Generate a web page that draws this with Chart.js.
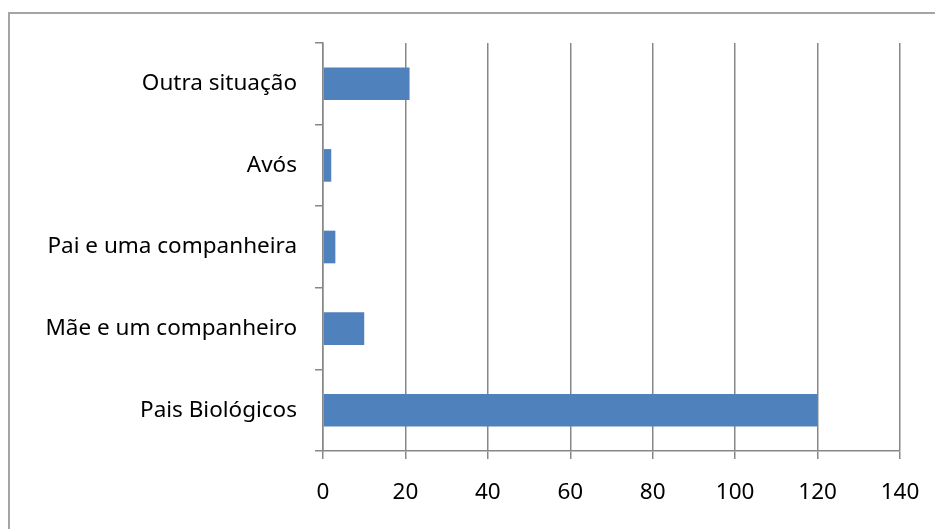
<!DOCTYPE html>
<html>
<head>
<meta charset="utf-8">
<script src="https://cdn.jsdelivr.net/npm/chart.js@4"></script>
<style>
    html, body { margin: 0; padding: 0; background: #fff; }
    #wrap { width: 935px; height: 529px; position: relative; }
</style>
</head>
<body>
<div id="wrap"><canvas id="chart"></canvas></div>
<script>
    // categories from top to bottom, as in the picture
    var categories = ['Outra situação', 'Avós', 'Pai e uma companheira', 'Mãe e um companheiro', 'Pais Biológicos'];
    var counts = [21, 2, 3, 10, 120];
    var xTicks = [0, 20, 40, 60, 80, 100, 120, 140];

    var lineColor = '#878787';
    var labelFont = { family: '"Noto Sans", sans-serif', size: 22.5 };

    // outer chart frame, only top and left edge fall inside the picture
    var framePlugin = {
        id: 'frame',
        beforeDraw: function (chart) {
            var ctx = chart.ctx;
            ctx.save();
            ctx.strokeStyle = '#a5a5a5';
            ctx.lineWidth = 2;
            ctx.beginPath();
            ctx.moveTo(9, chart.height);
            ctx.lineTo(9, 13);
            ctx.lineTo(chart.width, 13);
            ctx.stroke();
            ctx.restore();
        }
    };

    var ctx = document.getElementById('chart');
    new Chart(ctx, {
        type: 'bar',
        data: {
            labels: categories,
            datasets: [{
                data: counts,
                backgroundColor: '#4f81bd',
                barPercentage: 0.4,
                categoryPercentage: 1
            }]
        },
        options: {
            indexAxis: 'y',
            responsive: true,
            maintainAspectRatio: false,
            animation: false,
            layout: { padding: { top: 43, right: 35, bottom: 0, left: 0 } },
            plugins: {
                legend: { display: false },
                tooltip: { enabled: false }
            },
            scales: {
                x: {
                    min: 0,
                    max: 140,
                    afterBuildTicks: function (scale) {
                        scale.ticks = xTicks.map(function (v) { return { value: v }; });
                    },
                    afterFit: function (scale) {
                        scale.height = 78;
                        scale.paddingRight = 0;
                        scale.paddingLeft = 0;
                    },
                    grid: {
                        color: lineColor,
                        lineWidth: 1.5,
                        tickLength: 8,
                        drawTicks: true
                    },
                    border: { display: true, color: lineColor, width: 1.5 },
                    ticks: { color: '#000', font: labelFont, padding: 20, maxRotation: 0 }
                },
                y: {
                    afterFit: function (scale) { scale.width = 323; },
                    grid: {
                        offset: true,
                        drawOnChartArea: false,
                        color: lineColor,
                        lineWidth: 1.5,
                        tickLength: 8
                    },
                    border: { display: true, color: lineColor, width: 1.5 },
                    ticks: { color: '#000', font: labelFont, padding: 18 }
                }
            }
        },
        plugins: [framePlugin]
    });
</script>
</body>
</html>
